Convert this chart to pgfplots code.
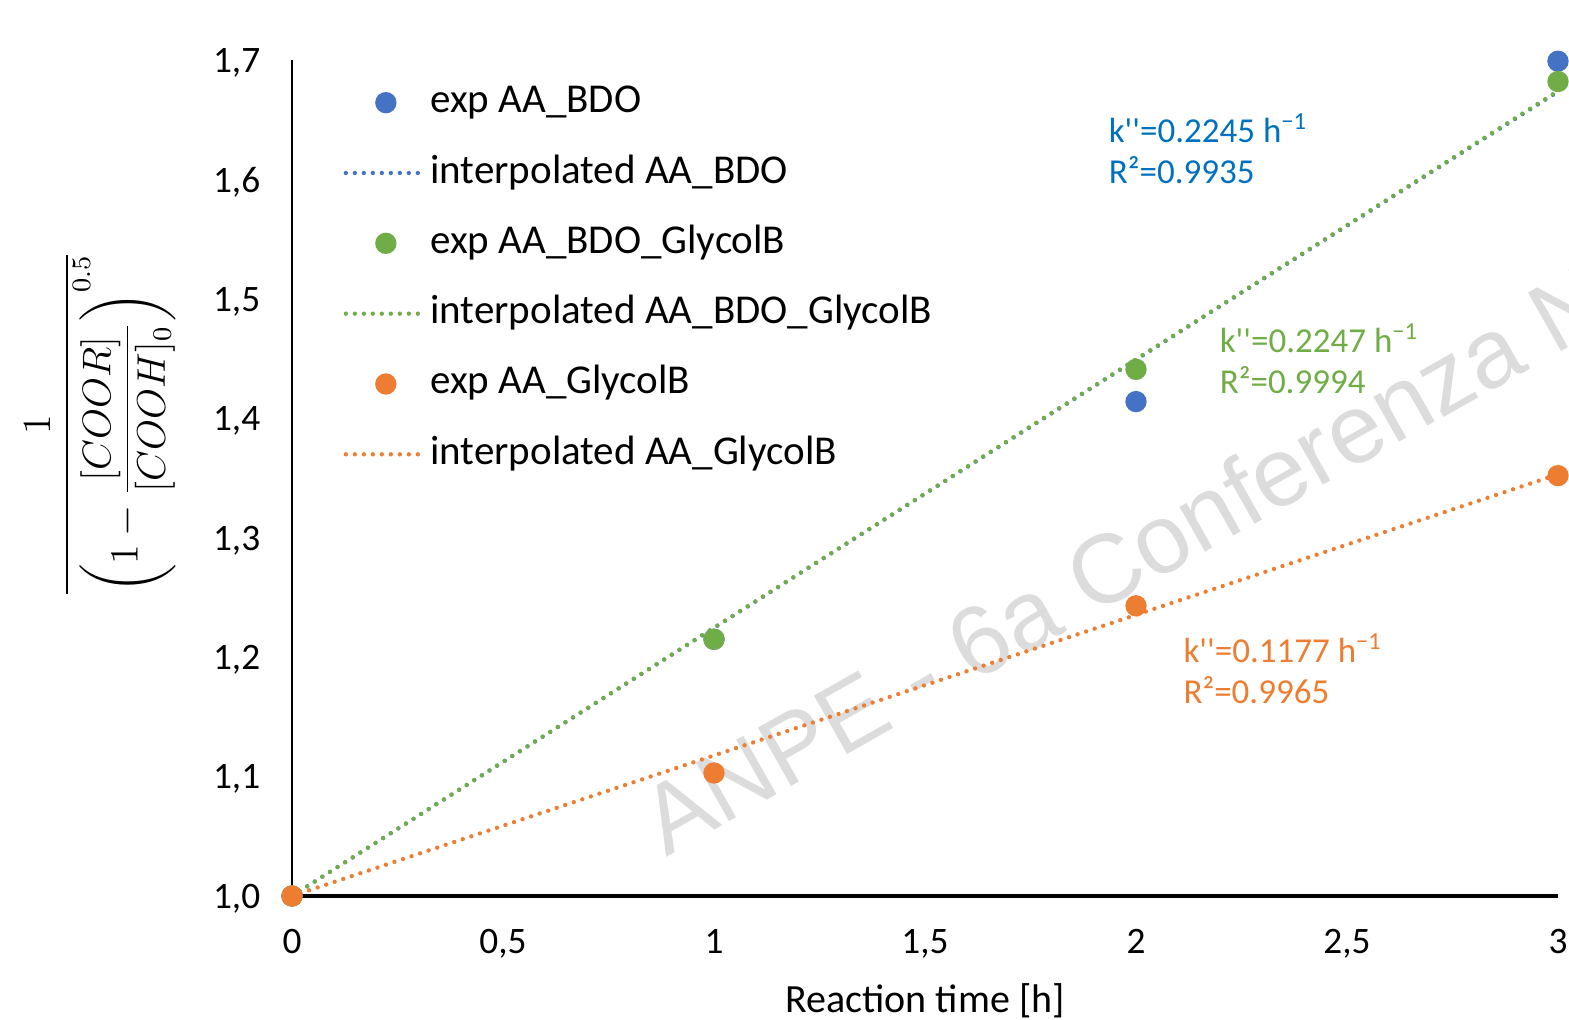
\documentclass[border=0pt]{standalone}
\usepackage{amsmath}
\usepackage{pgfplots}
\pgfplotsset{compat=1.18}
\usepackage{fontspec}
\setmainfont{Carlito}[Ligatures=TeXOff]
\newfontfamily\wmfont{Liberation Sans}
\definecolor{cblue}{HTML}{4472C4}
\definecolor{cgreen}{HTML}{70AD47}
\definecolor{corange}{HTML}{ED7D31}
\definecolor{tblue}{HTML}{0070C0}
\definecolor{wm}{HTML}{DCDCDC}
\tikzset{
  dotline/.style={line width=1.3pt, line cap=round, dash pattern=on 0pt off 2.7pt},
}
\begin{document}
\begin{tikzpicture}
\begin{axis}[
  at={(0pt,0pt)}, anchor=south west,
  scale only axis, width=379.8pt, height=250.8pt,
  xmin=0, xmax=3, ymin=1, ymax=1.7,
  clip=false,
  axis x line=bottom, axis y line=left,
  x axis line style={-, line width=1.1pt},
  y axis line style={-, line width=0.6pt},
  major tick length=0pt,
  xtick={0,0.5,1,1.5,2,2.5,3},
  ytick={1,1.1,1.2,1.3,1.4,1.5,1.6,1.7},
  /pgf/number format/assume math mode=true,
  /pgf/number format/use comma,
  xticklabel style={font=\fontsize{11.2}{13}\selectfont, yshift=-6.5pt},
  yticklabel style={font=\fontsize{11.2}{13}\selectfont, xshift=-6pt, yshift=-0.8pt,
    /pgf/number format/fixed, /pgf/number format/precision=1, /pgf/number format/fixed zerofill},
  xlabel={Reaction time [h]},
  xlabel style={at={(axis description cs:0.5,0)}, anchor=center, yshift=-31.4pt, font=\fontsize{12}{14}\selectfont},
  legend style={at={(axis cs:0.1209,1.6816)}, anchor=north west, draw=none, fill=none,
    inner sep=0pt, row sep=9.1pt,
    nodes={text height=9pt, text depth=3pt, inner sep=0pt},
    font=\fontsize{12.3}{14}\selectfont},
  legend cell align=left,
  /tikz/every odd column/.style={column sep=3.0pt},
  markleg/.style={legend image code/.code={\path[draw=none,fill=none] (0pt,-1pt) rectangle (21.7pt,1pt); \draw[##1,only marks,mark repeat=2,mark phase=2] plot coordinates {(0pt,0pt) (12pt,0pt) (21.7pt,0pt)};}},
  lineleg/.style={legend image code/.code={\path[draw=none,fill=none] (0pt,-1pt) rectangle (21.7pt,1pt); \draw[##1] (0pt,0pt) -- (21.7pt,0pt);}},
]
\node[rotate=29.5, anchor=base west, text=wm, font=\wmfont\fontsize{29.3}{31}\selectfont, inner sep=0pt] at (axis cs:0.885,1.032) {ANPE - 6a Conferenza N};

\addplot[only marks, mark=*, mark size=3pt, color=cblue, markleg] coordinates {(0,1) (1,1.215) (2,1.414) (3,1.699)};
\addlegendentry{exp AA\_BDO}
\addplot[cblue, dotline, lineleg] coordinates {(0,1) (3,1.6735)};
\addlegendentry{interpolated AA\_BDO}
\addplot[only marks, mark=*, mark size=3pt, color=cgreen, markleg] coordinates {(0,1) (1,1.215) (2,1.441) (3,1.682)};
\addlegendentry{exp AA\_BDO\_GlycolB}
\addplot[cgreen, dotline, lineleg] coordinates {(0,1) (3,1.6741)};
\addlegendentry{interpolated AA\_BDO\_GlycolB}
\addplot[only marks, mark=*, mark size=3pt, color=corange, markleg] coordinates {(0,1) (1,1.103) (2,1.243) (3,1.352)};
\addlegendentry{exp AA\_GlycolB}
\addplot[corange, dotline, lineleg] coordinates {(0,1) (3,1.3531)};
\addlegendentry{interpolated AA\_GlycolB}

\node[anchor=west, text=tblue, font=\fontsize{10.5}{12}\selectfont, inner sep=0pt] at (axis cs:1.934,1.643) {k''=0.2245 h\textsuperscript{−1}};
\node[anchor=west, text=tblue, font=\fontsize{10.5}{12}\selectfont, inner sep=0pt] at (axis cs:1.934,1.608) {R²=0.9935};
\node[anchor=west, text=cgreen, font=\fontsize{10.5}{12}\selectfont, inner sep=0pt] at (axis cs:2.197,1.467) {k''=0.2247 h\textsuperscript{−1}};
\node[anchor=west, text=cgreen, font=\fontsize{10.5}{12}\selectfont, inner sep=0pt] at (axis cs:2.197,1.432) {R²=0.9994};
\node[anchor=west, text=corange, font=\fontsize{10.5}{12}\selectfont, inner sep=0pt] at (axis cs:2.111,1.2077) {k''=0.1177 h\textsuperscript{−1}};
\node[anchor=west, text=corange, font=\fontsize{10.5}{12}\selectfont, inner sep=0pt] at (axis cs:2.111,1.1725) {R²=0.9965};

\node[xshift=-57.6pt, rotate=90, anchor=center, font=\fontsize{12}{14}\selectfont] at (axis cs:0,1.395)
  {$\dfrac{1}{\left(1-\dfrac{[COOR]}{[COOH]_0}\right)^{0.5}}$};
\end{axis}
\pgfresetboundingbox
\path[use as bounding box] (-87.6pt,-36.9pt) rectangle (383.1pt,268.8pt);
\end{tikzpicture}
\end{document}
